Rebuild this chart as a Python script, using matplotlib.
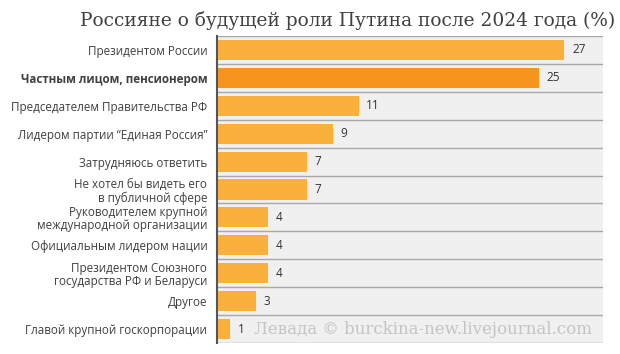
import matplotlib
matplotlib.use("Agg")
import matplotlib.pyplot as plt

categories = [
    "Президентом России",
    "Частным лицом, пенсионером",
    "Председателем Правительства РФ",
    "Лидером партии \u201cЕдиная Россия\u201d",
    "Затрудняюсь ответить",
    "Не хотел бы видеть его\nв публичной сфере",
    "Руководителем крупной\nмеждународной организации",
    "Официальным лидером нации",
    "Президентом Союзного\nгосударства РФ и Беларуси",
    "Другое",
    "Главой крупной госкорпорации",
]
values = [27, 25, 11, 9, 7, 7, 4, 4, 4, 3, 1]
highlight = 1
title = "Россияне о будущей роли Путина после 2024 года (%)"
watermark = "Левада © burckina-new.livejournal.com"

W, H = 620, 354
fig = plt.figure(figsize=(W / 100, H / 100), dpi=100)
ax = fig.add_axes([217 / W, 1 - 343 / H, (603 - 217) / W, (343 - 36) / H])

n = len(categories)
ys = list(range(n))
xmax = 30
# row backgrounds
ax.barh(ys, [xmax] * n, height=1.0, color="#f0f0f0", zorder=0)
for i in range(n + 1):
    ax.axhline(i - 0.5, color="#a8a8a8", lw=1.0, zorder=1)

colors = ["#f7941d" if i == highlight else "#fbb03b" for i in range(n)]
ax.barh(ys, values, height=0.72, color=colors, zorder=2)
for y, v in zip(ys, values):
    ax.text(v + 0.6, y, str(v), va="center", ha="left", fontsize=8.5,
            color="#333333", family="Open Sans", zorder=3)

ax.set_xlim(0, xmax)
ax.set_ylim(n - 0.5, -0.5)
ax.set_xticks([])
ax.set_yticks(ys)
ax.set_yticklabels(categories, fontsize=8.4, family="Open Sans", color="#404040",
                   linespacing=1.05)
for i, lab in enumerate(ax.get_yticklabels()):
    if i == highlight:
        lab.set_fontweight("bold")
ax.tick_params(axis="y", length=0, pad=7)
for s in ["top", "right", "bottom"]:
    ax.spines[s].set_visible(False)
ax.spines["left"].set_color("#555555")
ax.spines["left"].set_linewidth(1.5)

ax.text(2.9, n - 1, watermark, va="center", ha="left", fontsize=12,
        color="#c4c4c4", family="DejaVu Serif", zorder=3)

fig.text(615 / W, 1 - 20 / H, title, ha="right", va="center", fontsize=13.4,
         color="#404040", family="DejaVu Serif")

fig.savefig("out.png", dpi=100)
